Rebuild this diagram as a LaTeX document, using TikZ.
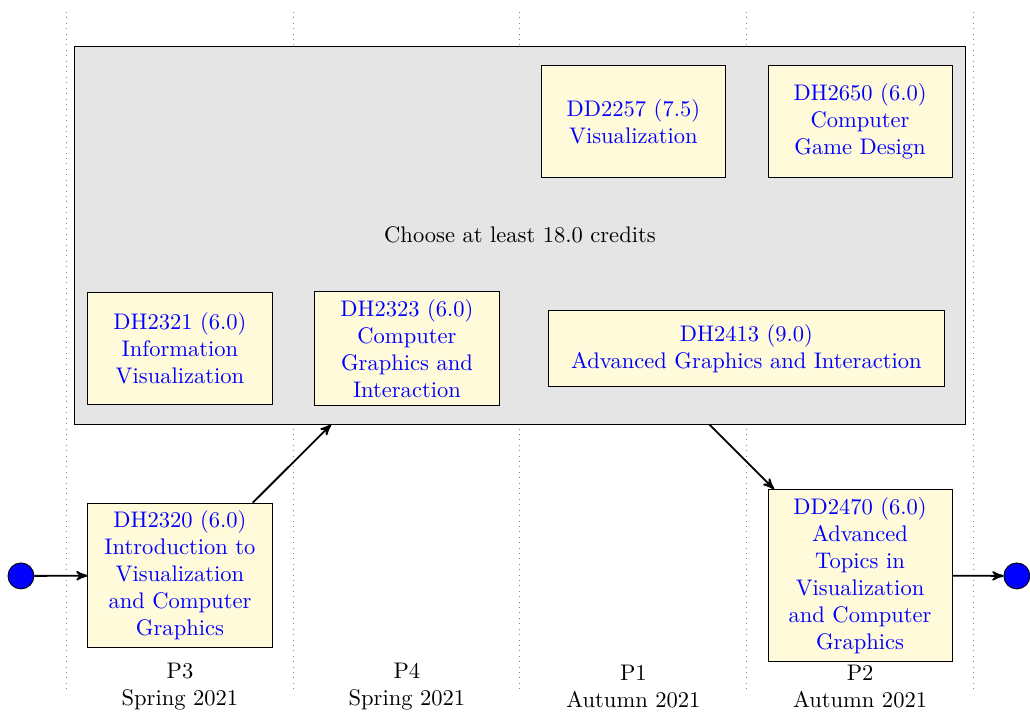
\documentclass[tikz,border=0pt]{standalone}
\usetikzlibrary{shapes,arrows,fit,positioning}
\definecolor{courseyellow}{rgb}{1,.98,.85}
\def\Choice{Choose at least 18.0 credits}

\begin{document}
\begin{tikzpicture}[% styles used by all boxes, override case-by-case
			every node/.style={
				align=center  		% so that "\\" breaks the line
			},
			course/.style={rectangle,draw=black,fill=courseyellow,text=blue,
				text width=2.5cm,minimum width=2.87cm,minimum height=1.76cm},
			group/.style={rectangle,draw=black,fill=gray!20},
			period/.style={text=black},
			terminal/.style={circle,draw=black,fill=blue,minimum size=0.405cm,inner sep=0pt},
			>=stealth',
			every edge/.style={draw,thick}
		]
		\useasboundingbox (0,0) rectangle (16.06,-11.18);
		% period separators
		\foreach \i in {0,...,4}
			\draw[gray,dotted] (1.029+3.539*\i,-0.187) -- (1.029+3.539*\i,-10.757);
		\node[group,minimum width=13.907cm,minimum height=5.893cm](G1) at (8.107,-3.664){\Choice};
		\node[course](DD2257) at (9.876,-1.894){DD2257 (7.5)\\Visualization};
		\node[course](DH2650) at (13.41,-1.894){DH2650 (6.0)\\Computer Game Design};
		\node[course](DH2321) at (2.806,-5.433){DH2321 (6.0)\\Information Visualization};
		\node[course](DH2323) at (6.345,-5.433){DH2323 (6.0)\\Computer Graphics and Interaction};
		\node[course,text width=5.9cm,minimum width=6.16cm,minimum height=1.17cm](DH2413) at (11.638,-5.433){DH2413 (9.0)\\Advanced Graphics and Interaction};
		\node[course](DH2320) at (2.806,-8.972){DH2320 (6.0)\\Introduction to Visualization and Computer Graphics};
		\node[course](DD2470) at (13.41,-8.972){DD2470 (6.0)\\Advanced Topics in Visualization and Computer Graphics};
		\node[terminal](S) at (0.327,-8.98){};
		\node[terminal](E) at (15.855,-8.98){};
		\node[period](P3) at (2.806,-10.71){P3\\Spring 2021};
		\node[period](P4) at (6.345,-10.71){P4\\Spring 2021};
		\node[period](P1) at (9.876,-10.71){P1\\Autumn 2021};
		\node[period](P2) at (13.41,-10.71){P2\\Autumn 2021};
		\path[->]
		(S)edge []	node [] {} (DH2320)
		(DH2320)edge []	node [] {} (G1)
		(G1)edge []	node [] {} (DD2470)
		(DD2470)edge []	node [] {} (E)
		;
	\end{tikzpicture}
\end{document}
